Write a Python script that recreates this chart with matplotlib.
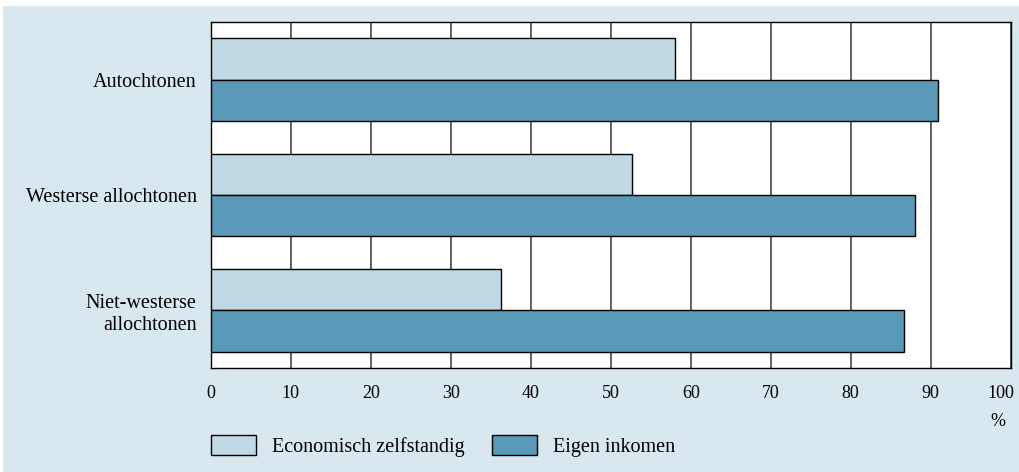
import numpy as np
from matplotlib import pyplot as plt
from matplotlib.patches import Rectangle
from matplotlib.transforms import ScaledTranslation

plt.rcParams["font.family"] = ["Liberation Serif", "DejaVu Serif"]

groups = ["Autochtonen", "Westerse allochtonen", "Niet-westerse\nallochtonen"]
zelfstandig = [58.0, 52.6, 36.3]
inkomen = [90.9, 88.0, 86.6]
series_names = ["Economisch zelfstandig", "Eigen inkomen"]
xticks = [0, 10, 20, 30, 40, 50, 60, 70, 80, 90, 100]

light = "#c1d9e4"
dark = "#5a9ab8"
bg = "#d9e7ef"

fig = plt.figure(figsize=(10.19, 4.72), dpi=100)
fig.patch.set_facecolor("white")
fig.patches.append(
    Rectangle((3 / 1019, 0), 1 - 3 / 1019, 1 - 6 / 472,
              transform=fig.transFigure, facecolor=bg, edgecolor="none", zorder=-5)
)

ax = fig.add_axes([210.7 / 1019, 1 - 368 / 472, 800 / 1019, 346 / 472])
ax.set_facecolor("white")

y = np.arange(len(groups))
h = 0.357
b1 = ax.barh(y - h / 2, zelfstandig, height=h, color=light,
             edgecolor="black", linewidth=1.0, label=series_names[0], zorder=3)
b2 = ax.barh(y + h / 2, inkomen, height=h, color=dark,
             edgecolor="black", linewidth=1.0, label=series_names[1], zorder=3)

ax.set_xlim(0, 100)
ax.set_ylim(2.5, -0.5)
ax.set_xticks(xticks)
ax.set_xticklabels([str(t) for t in xticks], fontsize=13)
ax.set_yticks(y)
ax.set_yticklabels(groups, fontsize=14.5, linespacing=1.2)
ax.tick_params(axis="both", length=0)
ax.tick_params(axis="x", pad=12)
ax.tick_params(axis="y", pad=10)
ax.grid(axis="x", color="#555555", linewidth=1.3, zorder=1)
for s in ax.spines.values():
    s.set_color("black")
    s.set_linewidth(1.0)

# last tick label is pulled inside the figure, as in the original
last = ax.get_xticklabels()[-1]
last.set_transform(last.get_transform() + ScaledTranslation(-10 / 100, 0, fig.dpi_scale_trans))

ax.text(0.993, -0.155, "%", transform=ax.transAxes, ha="right", va="center",
        fontsize=13)

ax.legend(handles=[b1, b2], loc="center left",
          bbox_to_anchor=(210.7 / 1019, 1 - 446 / 472),
          bbox_transform=fig.transFigure, ncol=2, frameon=False,
          fontsize=14.5, handlelength=2.24, handleheight=1.15,
          handletextpad=0.8, columnspacing=1.35, borderpad=0,
          borderaxespad=0)

plt.savefig("out.png", dpi=100)
